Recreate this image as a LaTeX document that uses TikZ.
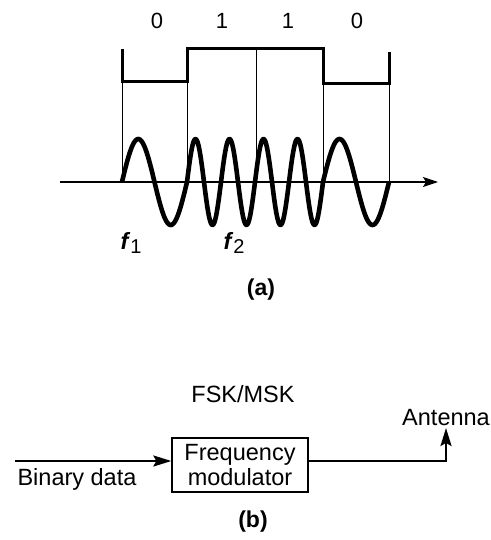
\documentclass[tikz,border=0pt]{standalone}
\usepackage{fontspec}
\setmainfont{Liberation Sans}
\usetikzlibrary{arrows.meta}
\tikzset{
  lbl/.style={font=\fontsize{23.5}{26}\selectfont, inner sep=0pt},
  dig/.style={font=\fontsize{22}{26}\selectfont, inner sep=0pt},
  bold/.style={font=\fontsize{23}{26}\selectfont\bfseries, inner sep=0pt},
  sq/.style={line width=3pt},
  thin/.style={line width=1pt},
  wave/.style={line width=4.6pt, line join=round},
  conn/.style={line width=2.2pt, -{Stealth[length=18pt,width=11pt,inset=3pt]}},
  blockbox/.style={draw, line width=1.3pt, minimum width=136pt, minimum height=54pt, align=center,
     font=\fontsize{23.5}{25}\selectfont, inner sep=0pt}
}
\begin{document}
\begin{tikzpicture}[x=1pt,y=-1pt]
\useasboundingbox (0,0) rectangle (490,540);
% bit labels
\node[dig] (b1) at (157,21) {0};
\node[dig] (b2) at (222,21) {1};
\node[dig] (b3) at (288,21) {1};
\node[dig] (b4) at (357,21) {0};
% square wave
\draw[sq] (122,49) -- (122,82) -- (187,82) -- (187,49) -- (323,49) -- (323,84) -- (389,84) -- (389,52);
% thin verticals
\draw[thin] (122,82) -- (122,182);
\draw[thin] (187,49) -- (187,182);
\draw[thin] (256,49) -- (256,182);
\draw[thin] (323,84) -- (323,182);
\draw[thin] (389,84) -- (389,182);
% axis
\coordinate (ax0) at (60,182);
\coordinate (ax1) at (438,182);
\draw[line width=1.4pt, -{Stealth[length=15pt,width=10pt,inset=3pt]}] (ax0) -- (ax1);
% wave
\draw[wave] plot[domain=122:187, samples=80, smooth] (\x, {182-43*sin((\x-122)/65*360)});
\draw[wave] plot[domain=187:323, samples=200, smooth] (\x, {182-43*sin((\x-187)/34*360)});
\draw[wave] plot[domain=323:389, samples=80, smooth] (\x, {182-43*sin((\x-323)/66*360)});
% f labels
\node[lbl] (f1) at (131,243) {\textbf{\textit{f}}\raisebox{-4pt}{\fontsize{20}{22}\selectfont 1}};
\node[lbl] (f2) at (234,243) {\textbf{\textit{f}}\raisebox{-4pt}{\fontsize{20}{22}\selectfont 2}};
\node[bold] (a) at (261,290) {(a)};
% part b
\node[lbl] (fsk) at (243,394) {FSK/MSK};
\node[blockbox] (mod) at (240,465) {Frequency\\modulator};
\coordinate (in) at (15,461);
\node[lbl] (bin) at (77,479) {Binary data};
\coordinate (corner) at (446,461);
\coordinate (ant) at (446,428);
\node[lbl] (antl) at (446,418) {Antenna};
\draw[conn] (in) -- (mod.west |- in);
\draw[conn] (mod.east |- corner) -- (corner) -- (ant);
\node[bold] (b) at (253,522) {(b)};
\end{tikzpicture}
\end{document}
